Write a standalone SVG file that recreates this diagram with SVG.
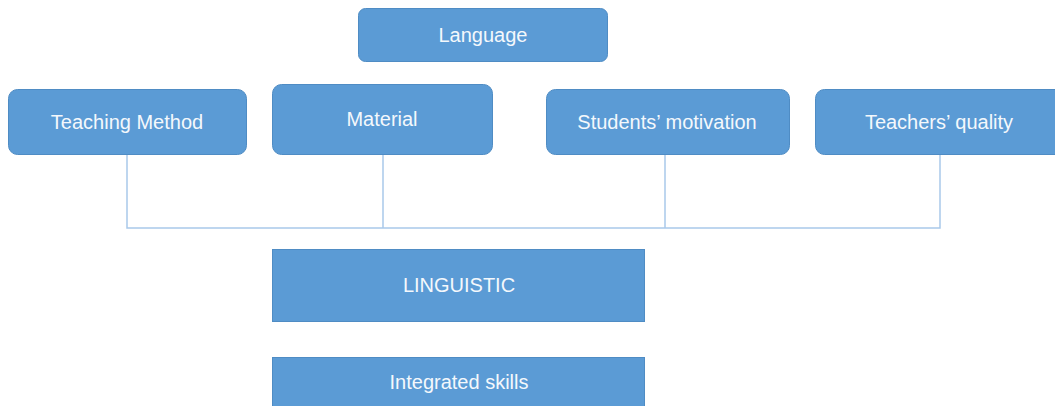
<svg xmlns="http://www.w3.org/2000/svg" width="1055" height="406" viewBox="0 0 1055 406">
  <style>
    .box { fill: #5b9bd5; stroke: #4f8cc4; stroke-width: 1; }
    .lbl { fill: #f4f8fc; font-family: "Liberation Sans", Arial, sans-serif; font-size: 20px; text-anchor: middle; }
    .conn { fill: none; stroke: #a9c9ea; stroke-width: 1.5; }
  </style>
  <rect width="1055" height="406" fill="#ffffff"/>
  <g id="connectors">
    <path class="conn" d="M127 155 V228 H940 V155"/>
    <path class="conn" d="M383 155 V228"/>
    <path class="conn" d="M665 155 V228"/>
  </g>
  <g id="language">
    <rect class="box" x="358.5" y="8.5" width="249" height="53" rx="7"/>
    <text class="lbl" x="483" y="42">Language</text>
  </g>
  <g id="teaching-method">
    <rect class="box" x="8.5" y="89.5" width="238" height="65" rx="9"/>
    <text class="lbl" x="127" y="129">Teaching Method</text>
  </g>
  <g id="material">
    <rect class="box" x="272.5" y="84.5" width="220" height="70" rx="9"/>
    <text class="lbl" x="382" y="126">Material</text>
  </g>
  <g id="students-motivation">
    <rect class="box" x="546.5" y="89.5" width="243" height="65" rx="9"/>
    <text class="lbl" x="667" y="129">Students’ motivation</text>
  </g>
  <g id="teachers-quality">
    <rect class="box" x="815.5" y="89.5" width="250" height="65" rx="9"/>
    <text class="lbl" x="939" y="129">Teachers’ quality</text>
  </g>
  <g id="linguistic">
    <rect class="box" x="272.5" y="249.5" width="372" height="72"/>
    <text class="lbl" x="459" y="292">LINGUISTIC</text>
  </g>
  <g id="integrated-skills">
    <rect class="box" x="272.5" y="357.5" width="372" height="60"/>
    <text class="lbl" x="459" y="389">Integrated skills</text>
  </g>
</svg>
